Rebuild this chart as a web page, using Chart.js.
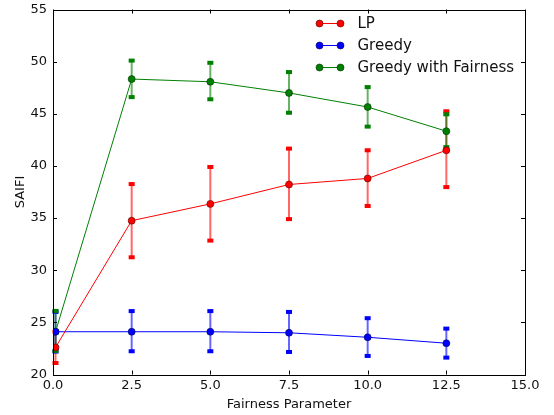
<!DOCTYPE html>
<html lang="en">
<head>
    <meta charset="UTF-8">
    <script src="https://cdn.jsdelivr.net/npm/chart.js"></script>
    <title>SAIFI</title>
    <style>
      body { margin: 0; background: #fff; }
    </style>
</head>
<body>
    <canvas id="myChart" width="554" height="415"></canvas>
</body>
<script>
    // fairness parameter values
    const fairness = [0.08, 2.5, 5.0, 7.5, 10.0, 12.5];

    const lpMean  = [22.6, 34.75, 36.36, 38.22, 38.8, 41.5];
    const lpLow   = [21.1, 31.24, 32.84, 34.9, 36.16, 37.97];
    const lpHigh  = [24.1, 38.26, 39.9, 41.66, 41.5, 45.24];

    const greedyMean = [24.1, 24.1, 24.1, 24.0, 23.57, 23.0];
    const greedyLow  = [22.2, 22.23, 22.23, 22.16, 21.78, 21.62];
    const greedyHigh = [26.0, 26.08, 26.08, 26.0, 25.4, 24.4];

    const fairMean = [24.1, 48.33, 48.07, 47.0, 45.65, 43.33];
    const fairLow  = [22.26, 46.6, 46.39, 45.1, 43.77, 41.8];
    const fairHigh = [26.1, 50.1, 49.89, 49.0, 47.56, 44.95];

    const seriesNames = ['LP', 'Greedy', 'Greedy with Fairness'];
    const xTicks = [0, 2.5, 5, 7.5, 10, 12.5, 15];
    const yTicks = [20, 25, 30, 35, 40, 45, 50, 55];

    const FONT = 'DejaVu Sans';

    function points(means) {
      return fairness.map((x, i) => ({ x: x, y: means[i] }));
    }

    const series = [
      { mean: lpMean, low: lpLow, high: lpHigh, color: 'rgb(255,0,0)', edge: 'rgb(90,0,0)', bar: 'rgba(255,0,0,0.6)' },
      { mean: greedyMean, low: greedyLow, high: greedyHigh, color: 'rgb(0,0,255)', edge: 'rgb(0,0,80)', bar: 'rgba(0,0,255,0.6)' },
      { mean: fairMean, low: fairLow, high: fairHigh, color: 'rgb(0,128,0)', edge: 'rgb(0,50,0)', bar: 'rgba(0,128,0,0.6)' }
    ];

    // error bars, inside ticks, frame and legend
    const decorations = {
      id: 'decorations',
      beforeDatasetsDraw(chart) {
        const ctx = chart.ctx;
        const xs = chart.scales.x, ys = chart.scales.y;
        ctx.save();
        series.forEach((s) => {
          fairness.forEach((x, i) => {
            const px = xs.getPixelForValue(x);
            const top = ys.getPixelForValue(s.high[i]);
            const bot = ys.getPixelForValue(s.low[i]);
            ctx.strokeStyle = s.bar;
            ctx.lineWidth = 2;
            ctx.beginPath();
            ctx.moveTo(px, top);
            ctx.lineTo(px, bot);
            ctx.stroke();
            ctx.fillStyle = s.color;
            ctx.fillRect(px - 3, top - 2, 6, 4);
            ctx.fillRect(px - 3, bot - 2, 6, 4);
          });
        });
        ctx.restore();
      },
      afterDraw(chart) {
        const ctx = chart.ctx;
        const a = chart.chartArea;
        const xs = chart.scales.x, ys = chart.scales.y;
        ctx.save();
        ctx.strokeStyle = '#000';
        ctx.lineWidth = 1;
        ctx.beginPath();
        xTicks.forEach((t) => {
          const px = Math.round(xs.getPixelForValue(t)) + 0.5;
          ctx.moveTo(px, a.bottom); ctx.lineTo(px, a.bottom - 4);
          ctx.moveTo(px, a.top); ctx.lineTo(px, a.top + 4);
        });
        yTicks.forEach((t) => {
          const py = Math.round(ys.getPixelForValue(t)) + 0.5;
          ctx.moveTo(a.left, py); ctx.lineTo(a.left + 4, py);
          ctx.moveTo(a.right, py); ctx.lineTo(a.right - 4, py);
        });
        ctx.stroke();
        ctx.strokeRect(Math.round(a.left) + 0.5, Math.round(a.top) + 0.5,
                       Math.round(a.right - a.left), Math.round(a.bottom - a.top));

        // legend
        ctx.font = '15px ' + FONT;
        ctx.textBaseline = 'middle';
        series.forEach((s, i) => {
          const y = 23.5 + i * 22;
          ctx.strokeStyle = s.color;
          ctx.lineWidth = 1;
          ctx.beginPath();
          ctx.moveTo(319.5, y); ctx.lineTo(340.5, y);
          ctx.stroke();
          [319.5, 340.5].forEach((cx) => {
            ctx.beginPath();
            ctx.arc(cx, y, 3.5, 0, Math.PI * 2);
            ctx.fillStyle = s.color;
            ctx.fill();
            ctx.strokeStyle = s.edge;
            ctx.lineWidth = 0.6;
            ctx.stroke();
          });
          ctx.fillStyle = '#111';
          ctx.fillText(seriesNames[i], 357.5, y + 0.5);
        });
        ctx.restore();
      }
    };

    const ctx = document.getElementById('myChart');
    new Chart(ctx, {
      type: 'line',
      data: {
        datasets: series.map((s, i) => ({
          label: seriesNames[i],
          data: points(s.mean),
          borderColor: s.color,
          backgroundColor: s.color,
          borderWidth: 1,
          pointRadius: 3.5,
          pointBackgroundColor: s.color,
          pointBorderColor: s.edge,
          pointBorderWidth: 0.6,
          tension: 0,
          fill: false
        }))
      },
      options: {
        responsive: false,
        animation: false,
        layout: { padding: { left: 0, right: 29, top: 9.5, bottom: 0 } },
        plugins: {
          legend: { display: false },
          tooltip: { enabled: false }
        },
        scales: {
          x: {
            type: 'linear',
            min: 0,
            max: 15,
            afterFit: (s) => { s.height = 40.5; s.paddingLeft = 0; s.paddingRight = 0; },
            afterBuildTicks: (s) => { s.ticks = xTicks.map((v) => ({ value: v })); },
            grid: { display: false, drawTicks: false },
            border: { display: false },
            ticks: {
              padding: 3,
              color: '#111',
              font: { family: FONT, size: 13 },
              callback: (v) => v.toFixed(1)
            },
            title: {
              display: true,
              text: 'Fairness Parameter',
              color: '#111',
              font: { family: FONT, size: 13 },
              padding: { top: 0, bottom: 3 }
            }
          },
          y: {
            min: 20,
            max: 55,
            afterFit: (s) => { s.width = 53; s.paddingTop = 0; s.paddingBottom = 0; },
            afterBuildTicks: (s) => { s.ticks = yTicks.map((v) => ({ value: v })); },
            grid: { display: false, drawTicks: false },
            border: { display: false },
            ticks: {
              padding: 6,
              color: '#111',
              font: { family: FONT, size: 13 }
            },
            title: {
              display: true,
              text: 'SAIFI',
              color: '#111',
              font: { family: FONT, size: 13 },
              padding: { top: 13, bottom: 0 }
            }
          }
        }
      },
      plugins: [decorations]
    });
</script>
</html>
